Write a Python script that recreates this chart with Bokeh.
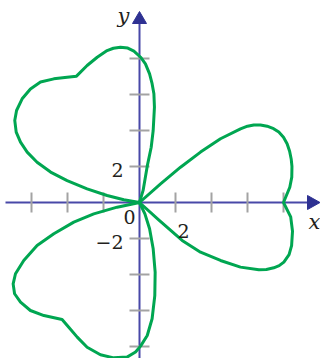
from bokeh.plotting import figure
from bokeh.embed import file_html
from bokeh.resources import INLINE
from bokeh.core.properties import value

# --- Three-leaf clover traced in the xy-plane (data units) ---
right_x = [0, 1.17, 2.28, 3.39, 4.50, 5.61, 6.00, 6.35, 6.72, 7.09, 7.45, 7.74, 8.00, 8.20, 8.34,
           8.43, 8.47, 8.46, 8.35, 8.0,
           8.40, 8.50, 8.45, 8.31, 8.02, 7.76, 7.46, 7.05, 6.63, 5.61, 4.50, 3.39, 2.37, 1.05, 0]
right_y = [0, 1.04, 1.96, 2.80, 3.54, 4.09, 4.24, 4.31, 4.31, 4.24, 4.10, 3.91, 3.62, 3.26, 2.85,
           2.40, 2.00, 1.41, 0.85, 0.0,
           -0.80, -1.60, -2.40, -2.90, -3.31, -3.51, -3.63, -3.72, -3.74, -3.59, -3.22, -2.76, -2.11, -0.95, 0]

upper_x = [0, 0.20, 0.43, 0.65, 0.76, 0.83, 0.80, 0.70, 0.56, 0.33, 0.06, -0.31, -0.65, -1.06,
           -1.45, -1.80, -2.35, -2.91, -3.50, -4.02, -4.76, -5.50, -6.06, -6.52, -6.83, -6.93,
           -6.85, -6.61, -6.24, -5.69, -4.94, -4.02, -2.91, -1.80, -0.87, 0]
upper_y = [0, 0.67, 2.02, 3.07, 4.00, 5.30, 6.04, 6.60, 7.15, 7.70, 8.07, 8.41, 8.58, 8.63,
           8.57, 8.44, 8.07, 7.61, 7.02, 6.96, 6.87, 6.69, 6.31, 5.76, 5.11, 4.56,
           3.91, 3.35, 2.80, 2.24, 1.69, 1.22, 0.76, 0.39, 0.15, 0]

lower_x = [0, -1.24, -2.54, -3.65, -4.76, -5.69, -6.43, -6.89, -7.02, -6.94, -6.61, -6.06, -5.31,
           -4.30, -3.93, -3.46, -2.91, -2.17, -1.43, -0.69, -0.22, 0.06, 0.43, 0.70, 0.85, 0.87,
           0.76, 0.56, 0.30, 0]
lower_y = [0, -0.26, -0.63, -1.09, -1.74, -2.39, -3.22, -3.96, -4.52, -5.07, -5.54, -6.00, -6.28,
           -6.50, -6.93, -7.48, -8.04, -8.46, -8.63, -8.59, -8.31, -7.98, -7.39, -6.46, -5.17, -3.87,
           -2.57, -1.46, -0.63, 0]

# --- Axis ticks and labels ---
x_ticks = [-6, -4, -2, 2, 4, 6, 8]
y_ticks = [-8, -6, -4, -2, 2, 4, 6, 8]
x_tick_labels = {2: "2"}
y_tick_labels = {2: "2", -2: "\u22122"}

W, H = 320, 358
SCALE = 18.0          # pixels per unit
OX, OY = 139, 202     # origin position on the canvas (pixels)

x0 = -OX / SCALE
x1 = (W - OX) / SCALE
y0 = -(H - OY) / SCALE
y1 = OY / SCALE

p = figure(width=W, height=H, x_range=(x0, x1), y_range=(y0, y1),
           x_axis_type=None, y_axis_type=None, toolbar_location=None,
           output_backend="svg", min_border=0)
p.grid.visible = False
p.outline_line_color = None
p.background_fill_color = "white"
p.border_fill_color = "white"

AXIS = "#4848a8"
HEAD = "#2e3192"
TICK = "#a3a3a3"
GREEN = "#00a651"
INK = "#231f20"
u = 1 / SCALE

# axis lines
p.segment(x0=[x0 + 5 * u, 0], y0=[0, y0], x1=[x1 - 10 * u, 0], y1=[0, y1 - 20 * u],
          line_color=AXIS, line_width=2)
# arrow heads
p.patches(xs=[[x1 - 13 * u, x1 - 0.5 * u, x1 - 13 * u], [-7 * u, 0, 7 * u]],
          ys=[[7 * u, 0, -7 * u], [y1 - 23 * u, y1 - 11 * u, y1 - 23 * u]],
          fill_color=HEAD, line_color=HEAD)

# tick marks
half = 10 * u
p.segment(x0=x_ticks, y0=[-half] * len(x_ticks), x1=x_ticks, y1=[half] * len(x_ticks),
          line_color=TICK, line_width=2)
p.segment(x0=[-half] * len(y_ticks), y0=y_ticks, x1=[half] * len(y_ticks), y1=y_ticks,
          line_color=TICK, line_width=2)

# the clover
for xs, ys in ((right_x, right_y), (upper_x, upper_y), (lower_x, lower_y)):
    p.line(xs, ys, line_color=GREEN, line_width=3, line_join="round", line_cap="round")

FONT = value("DejaVu Serif")
SIZE = "19px"

# numeric labels
for t, s in x_tick_labels.items():
    p.text(x=[t + 8 * u], y=[-28 * u], text=[s], text_font=FONT, text_font_size=SIZE,
           text_align="center", text_baseline="middle", text_color=INK)
for t, s in y_tick_labels.items():
    p.text(x=[-16 * u], y=[t - 3 * u], text=[s], text_font=FONT, text_font_size=SIZE,
           text_align="right", text_baseline="middle", text_color=INK)
p.text(x=[-10 * u], y=[-14 * u], text=["0"], text_font=FONT, text_font_size=SIZE,
       text_align="center", text_baseline="middle", text_color=INK)

# axis names
p.text(x=[x1 - 6 * u], y=[-19 * u], text=["x"], text_font=FONT, text_font_size="21px",
       text_font_style="italic", text_align="center", text_baseline="middle", text_color=INK)
p.text(x=[-16 * u], y=[y1 - 15 * u], text=["y"], text_font=FONT, text_font_size="21px",
       text_font_style="italic", text_align="center", text_baseline="middle", text_color=INK)

open("out.html", "w").write(file_html(p, INLINE))
